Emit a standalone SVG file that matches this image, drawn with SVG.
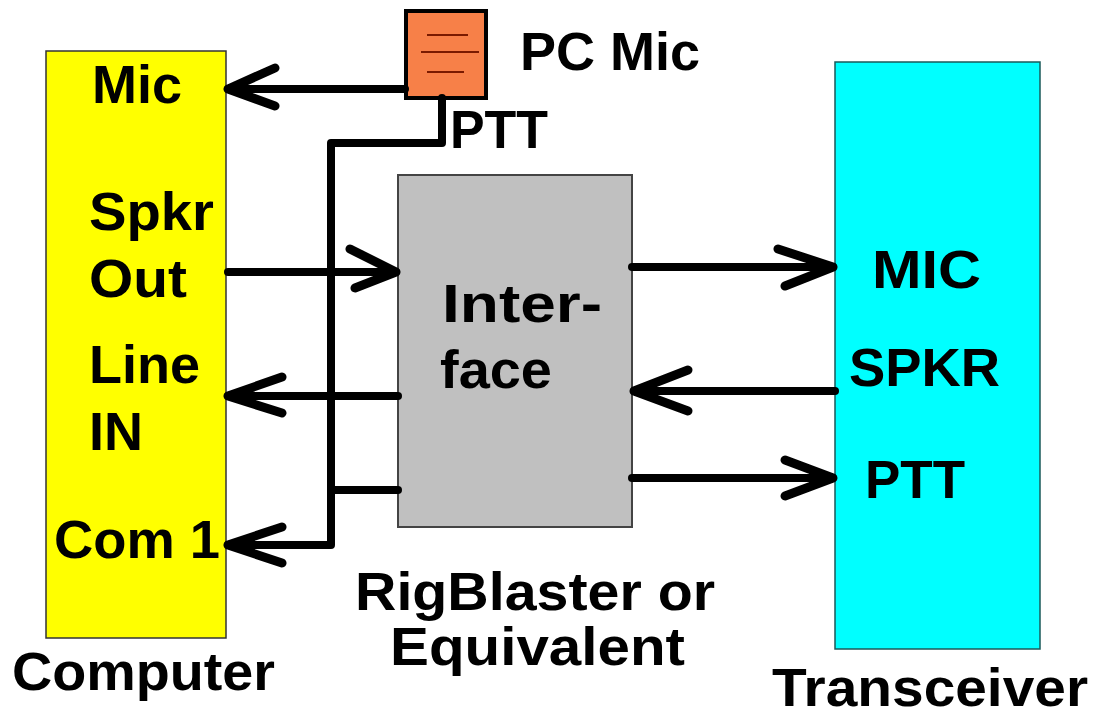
<svg xmlns="http://www.w3.org/2000/svg" width="1103" height="717" viewBox="0 0 1103 717">
<style>
text{font-family:"Liberation Sans",Arial,sans-serif;font-weight:bold;font-size:54px;fill:#000}
.w{fill:none;stroke:#000;stroke-width:8;stroke-linecap:round;stroke-linejoin:round}
.h{fill:none;stroke:#000;stroke-width:9;stroke-linecap:round;stroke-linejoin:round}
</style>
<rect width="1103" height="717" fill="#fff"/>
<g id="computer">
<rect x="46" y="51" width="180" height="587" fill="#ffff00" stroke="#333" stroke-width="1.5"/>
<text x="92" y="103" textLength="90" lengthAdjust="spacingAndGlyphs">Mic</text>
<text x="89" y="230" textLength="125" lengthAdjust="spacingAndGlyphs">Spkr</text>
<text x="89" y="297" textLength="98" lengthAdjust="spacingAndGlyphs">Out</text>
<text x="89" y="383" textLength="111" lengthAdjust="spacingAndGlyphs">Line</text>
<text x="89" y="450">IN</text>
<text x="54" y="558" textLength="166" lengthAdjust="spacingAndGlyphs">Com 1</text>
<text x="12" y="690" textLength="263" lengthAdjust="spacingAndGlyphs">Computer</text>
</g>
<g id="pcmic">
<rect x="406" y="11" width="80" height="87" fill="#f78048" stroke="#000" stroke-width="4"/>
<line x1="427" y1="35" x2="468" y2="35" stroke="#7a1a00" stroke-width="2"/>
<line x1="421" y1="52" x2="479" y2="52" stroke="#7a1a00" stroke-width="2"/>
<line x1="427" y1="72" x2="464" y2="72" stroke="#7a1a00" stroke-width="2"/>
<text x="520" y="70" textLength="180" lengthAdjust="spacingAndGlyphs">PC Mic</text>
<text x="450" y="148" textLength="98" lengthAdjust="spacingAndGlyphs">PTT</text>
</g>
<g id="interface">
<rect x="398" y="175" width="234" height="352" fill="#c0c0c0" stroke="#444" stroke-width="2"/>
<text x="442" y="322" font-size="56" textLength="160" lengthAdjust="spacingAndGlyphs">Inter-</text>
<text x="440" y="388" font-size="56" textLength="112" lengthAdjust="spacingAndGlyphs">face</text>
<text x="355" y="610" font-size="56" textLength="360" lengthAdjust="spacingAndGlyphs">RigBlaster or</text>
<text x="390" y="665" font-size="56" textLength="295" lengthAdjust="spacingAndGlyphs">Equivalent</text>
</g>
<g id="transceiver">
<rect x="835" y="62" width="205" height="587" fill="#00ffff" stroke="#1a5a5a" stroke-width="1.5"/>
<text x="872" y="288" font-size="56" textLength="109" lengthAdjust="spacingAndGlyphs">MIC</text>
<text x="849" y="386" textLength="151" lengthAdjust="spacingAndGlyphs">SPKR</text>
<text x="865" y="498" textLength="100" lengthAdjust="spacingAndGlyphs">PTT</text>
<text x="772" y="706" font-size="52" textLength="316" lengthAdjust="spacingAndGlyphs">Transceiver</text>
</g>
<g id="connectors">
<line class="w" x1="405" y1="89" x2="228" y2="89"/>
<path class="h" d="M275 68 L228 89 L275 106"/>
<path class="w" d="M442 98 V143 H331 V545 H228"/>
<path class="h" d="M282 527 L228 545 L282 563"/>
<line class="w" x1="331" y1="490" x2="398" y2="490"/>
<line class="w" x1="228" y1="272" x2="396" y2="272"/>
<path class="h" d="M350 249 L396 272 L355 288"/>
<line class="w" x1="398" y1="396" x2="228" y2="396"/>
<path class="h" d="M282 377 L228 396 L282 413"/>
<line class="w" x1="632" y1="267" x2="833" y2="267"/>
<path class="h" d="M778 249 L833 267 L785 286"/>
<line class="w" x1="835" y1="391" x2="634" y2="391"/>
<path class="h" d="M688 370 L634 391 L688 411"/>
<line class="w" x1="632" y1="478" x2="833" y2="478"/>
<path class="h" d="M785 460 L833 478 L785 496"/>
</g>
</svg>
